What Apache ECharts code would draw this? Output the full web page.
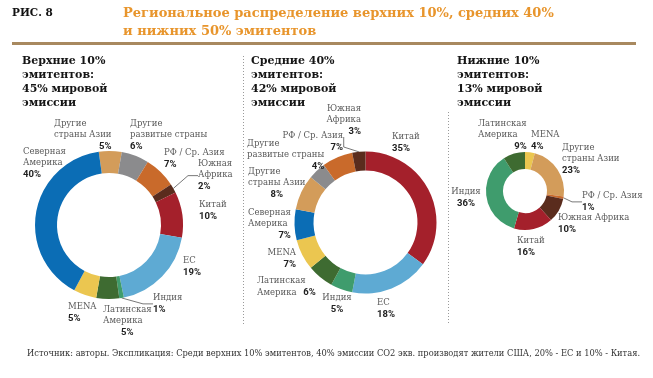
<!DOCTYPE html>
<html><head><meta charset="utf-8">
<script src="https://cdn.jsdelivr.net/npm/echarts@6/dist/echarts.min.js"></script>
<style>html,body{margin:0;padding:0;background:#fff}#c{width:653px;height:378px}</style>
</head><body><div id="c"></div>
<script>
// ---- data ----
const cats1 = ['Другие страны Азии','Другие развитые страны','РФ / Ср. Азия','Южная Африка','Китай','ЕС','Индия','Латинская Америка','MENA','Северная Америка'];
const vals1 = [5,6,7,2,10,19,1,5,5,40];
const cats2 = ['Китай','ЕС','Индия','Латинская Америка','MENA','Северная Америка','Другие страны Азии','Другие развитые страны','РФ / Ср. Азия','Южная Африка'];
const vals2 = [35,18,5,6,7,7,8,4,7,3];
const cats3 = ['MENA','Другие страны Азии','РФ / Ср. Азия','Южная Африка','Китай','Индия','Латинская Америка'];
const vals3 = [4,23,1,10,16,36,9];
const panelTitles = ['Верхние 10%\nэмитентов:\n45% мировой\nэмиссии','Средние 40%\nэмитентов:\n42% мировой\nэмиссии','Нижние 10%\nэмитентов:\n13% мировой\nэмиссии'];
const figLabel = 'РИС. 8';
const figTitle = 'Региональное распределение верхних 10%, средних 40%\nи нижних 50% эмитентов';
const footnote = 'Источник: авторы. Экспликация: Среди верхних 10% эмитентов, 40% эмиссии СО2 экв. производят жители США, 20% - ЕС и 10% - Китая.';

// ---- styles ----
const COLORS = {
  'Северная Америка':'#0b6db5','Другие страны Азии':'#d39c5a','Другие развитые страны':'#8b8b8d',
  'РФ / Ср. Азия':'#c96a2b','Южная Африка':'#5a2c1d','Китай':'#a4202b','ЕС':'#5eaad3',
  'Индия':'#3f9c6d','Латинская Америка':'#3e6b31','MENA':'#ebc650'
};
const WRAP = {'Северная Америка':'Северная\nАмерика','Другие страны Азии':'Другие\nстраны Азии',
  'Другие развитые страны':'Другие\nразвитые страны','Южная Африка':'Южная\nАфрика','Латинская Америка':'Латинская\nАмерика'};
const LEADERS = [['Южная Африка','Индия'],['Южная Африка'],['РФ / Ср. Азия']];
// label placement: [x, top, blockAlign, valueAlign, option]
const LAYOUT = [
  {'Северная Америка':[23,146,'left','left'],'Другие страны Азии':[54,118,'left','right'],
   'Другие развитые страны':[130,118,'left','left'],'РФ / Ср. Азия':[164,147,'left','left'],
   'Южная Африка':[198,158,'left','left'],'Китай':[199,199,'left','left'],'ЕС':[183,255,'left','left'],
   'Индия':[153,292,'left','left'],'Латинская Америка':[103,304,'left','center'],'MENA':[68,301,'left','left']},
  {'Китай':[392,131,'left','left'],'ЕС':[377,297,'left','left'],'Индия':[337,292,'center','center'],
   'Латинская Америка':[257,275,'left','left','inline'],'MENA':[296,247,'right','right'],
   'Северная Америка':[248,207,'left','right'],'Другие страны Азии':[248,166,'left','center'],
   'Другие развитые страны':[247,138,'left','right'],'РФ / Ср. Азия':[343,130,'right','right'],
   'Южная Африка':[361,103,'right','right']},
  {'MENA':[531,129,'left','left'],'Другие страны Азии':[562,142,'left','left'],'РФ / Ср. Азия':[582,190,'left','left'],
   'Южная Африка':[558,212,'left','left','one'],'Китай':[517,235,'left','left'],'Индия':[466,186,'center','center'],
   'Латинская Америка':[478,118,'left','right']}
];
const SERIF = 'DejaVu Serif';
const rich = {
  n:{fontFamily:SERIF,fontSize:8.5,color:'#5a5a5a',lineHeight:11.5},
  vl:{fontFamily:'Roboto',fontWeight:'bold',fontSize:9.5,color:'#222',lineHeight:12,align:'left'},
  vc:{fontFamily:'Roboto',fontWeight:'bold',fontSize:9.5,color:'#222',lineHeight:12,align:'center'},
  vr:{fontFamily:'Roboto',fontWeight:'bold',fontSize:9.5,color:'#222',lineHeight:12,align:'right'},
  vi:{fontFamily:'Roboto',fontWeight:'bold',fontSize:9.5,color:'#222',lineHeight:11.5}
};
function fmt(si){
  return function(p){
    const s = LAYOUT[si][p.name];
    const name = s[4]==='one' ? p.name : (WRAP[p.name]||p.name);
    const lines = name.split('\n').map(l=>'{n|'+l+'}');
    const v = p.value+'%';
    if (s[4]==='inline') lines[lines.length-1] += '  {vi|'+v+'}';
    else lines.push('{v'+s[3][0]+'|'+v+'}');
    return lines.join('\n');
  };
}
function lay(si, cats){
  return function(params){
    const s = LAYOUT[si][cats[params.dataIndex]];
    return {x:s[0], y:s[1], align:s[2], verticalAlign:'top', hideOverlap:false};
  };
}
function mkSeries(si, cats, vals, center, radius, startAngle){
  return {
    type:'pie', center:center, radius:radius, startAngle:startAngle, clockwise:true,
    avoidLabelOverlap:false, silent:true, animation:false,
    data: cats.map((c,i)=>({name:c, value:vals[i], itemStyle:{color:COLORS[c]},
      labelLine:{show: LEADERS[si].indexOf(c)>=0}})),
    label:{show:true, position:'outside', formatter:fmt(si), rich:rich},
    labelLine:{show:false, length:6, length2:10, lineStyle:{color:'#555',width:0.8}},
    labelLayout: lay(si, cats),
    emphasis:{disabled:true}
  };
}
const chart = echarts.init(document.getElementById('c'), null, {renderer:'canvas'});
const titleStyle = {fontFamily:SERIF,fontWeight:'bold',fontSize:11,color:'#151515',lineHeight:14};
chart.setOption({
  backgroundColor:'#fff',
  title:[
    {text:figLabel,left:7,top:3,textStyle:{fontFamily:SERIF,fontWeight:'bold',fontSize:10.5,color:'#111'}},
    {text:figTitle,left:118,top:0,textStyle:{fontFamily:SERIF,fontWeight:'bold',fontSize:13,color:'#e8952c',lineHeight:18}},
    {text:panelTitles[0],left:17,top:49,textStyle:titleStyle},
    {text:panelTitles[1],left:246,top:49,textStyle:titleStyle},
    {text:panelTitles[2],left:452,top:49,textStyle:titleStyle},
    {text:footnote,left:22,top:345,textStyle:{fontFamily:SERIF,fontWeight:'normal',fontSize:8.3,color:'#333'}}
  ],
  graphic:[
    {type:'rect',shape:{x:12,y:42,width:624,height:3},style:{fill:'#a8895f'},silent:true},
    {type:'line',shape:{x1:243.5,y1:56,x2:243.5,y2:324},style:{stroke:'#9a9a9a',lineWidth:1,lineDash:[1,2]},silent:true},
    {type:'line',shape:{x1:448.5,y1:112,x2:448.5,y2:325},style:{stroke:'#9a9a9a',lineWidth:1,lineDash:[1,2]},silent:true}
  ],
  series:[
    mkSeries(0,cats1,vals1,[109,225],[52,74],98),
    mkSeries(1,cats2,vals2,[365.5,222.5],[52,71],90),
    mkSeries(2,cats3,vals3,[525,191],[22,39],90)
  ]
});
</script></body></html>
